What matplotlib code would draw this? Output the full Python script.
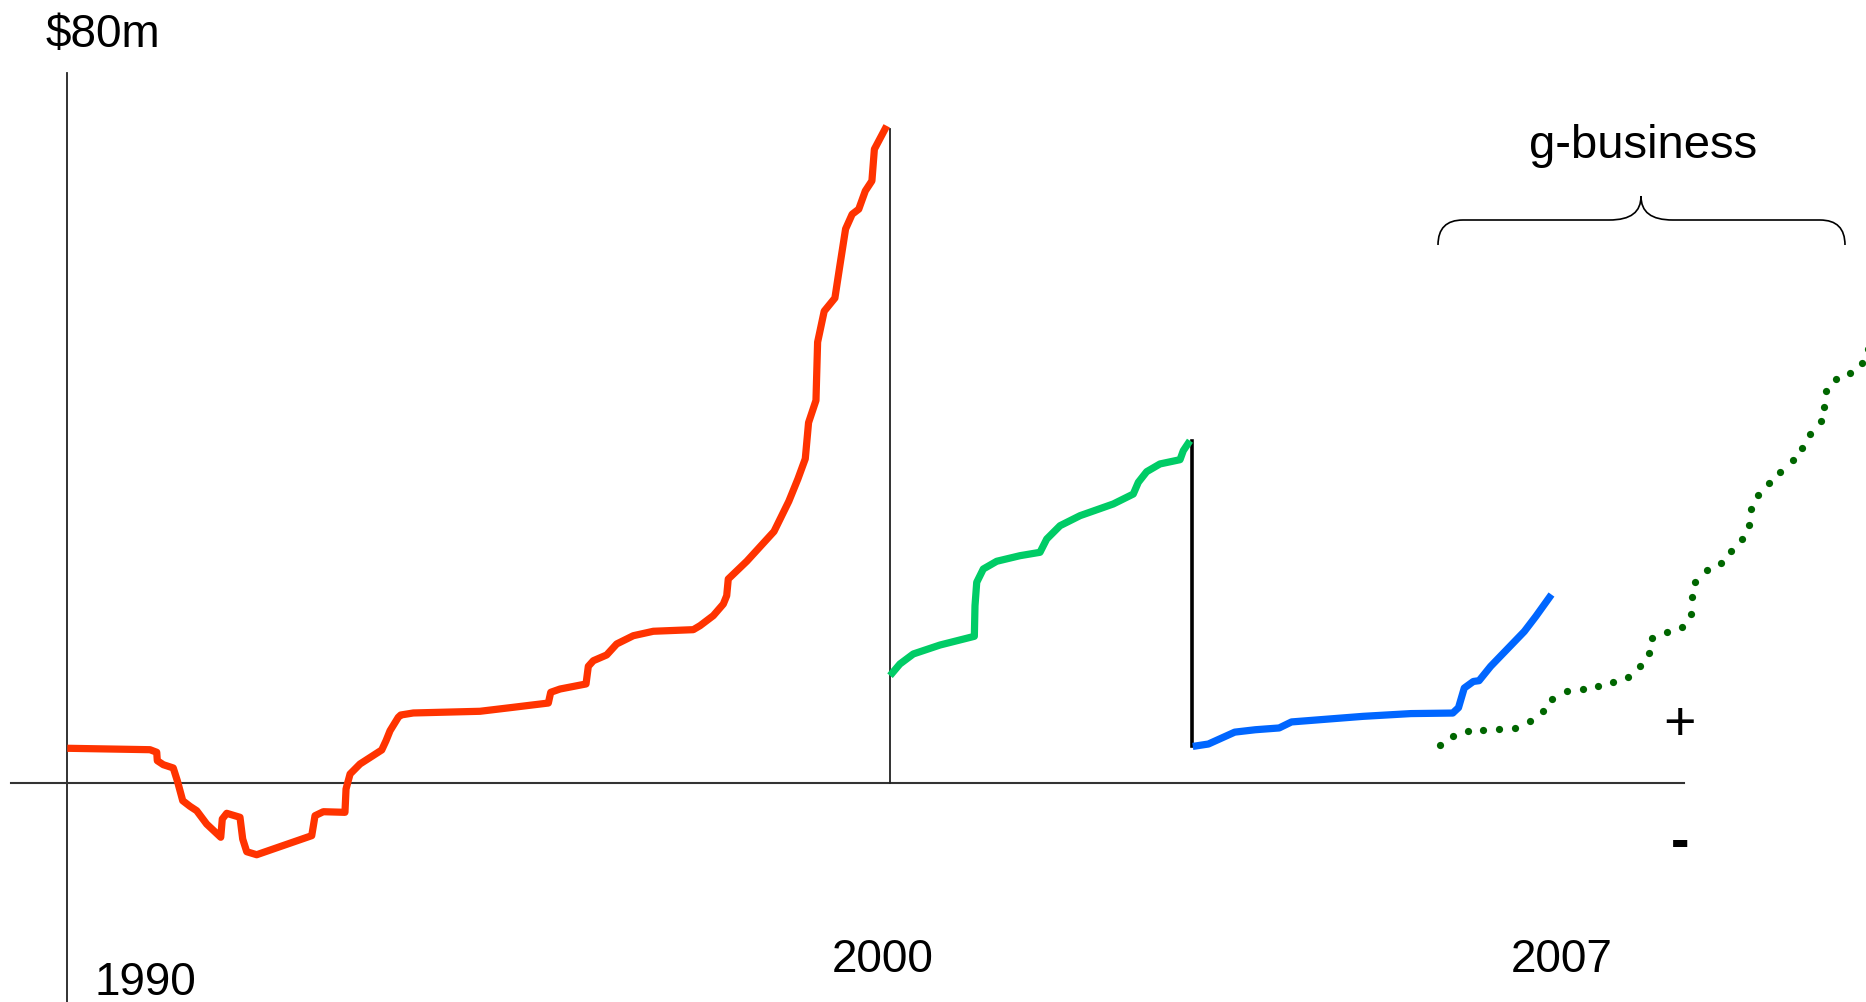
import matplotlib
matplotlib.use("Agg")
import matplotlib.pyplot as plt
from matplotlib.path import Path
from matplotlib.patches import PathPatch

plt.rcParams['font.family'] = ['Liberation Sans', 'DejaVu Sans']

# ---- data (year, $m) ----
red_years = [1990.00, 1991.005, 1991.087, 1991.094, 1991.167, 1991.288, 1991.337, 1991.403,
             1991.491, 1991.573, 1991.694, 1991.865, 1991.884, 1991.938, 1992.099, 1992.132,
             1992.181, 1992.302, 1992.504, 1992.971, 1992.990, 1993.011, 1993.112, 1993.375,
             1993.388, 1993.437, 1993.558, 1993.822, 1993.874, 1993.923, 1994.023, 1994.053,
             1994.206, 1995.016, 1995.421, 1995.847, 1995.876, 1995.989, 1996.305, 1996.333,
             1996.394, 1996.556, 1996.678, 1996.880, 1997.123, 1997.609, 1997.691, 1997.852,
             1997.974, 1998.015, 1998.034, 1998.26, 1998.59, 1998.77, 1998.88, 1998.97,
             1999.01, 1999.10, 1999.12, 1999.20, 1999.33, 1999.39, 1999.46, 1999.54,
             1999.62, 1999.70, 1999.78, 1999.81, 1999.96]
red_vals = [3.88, 3.72, 3.43, 2.48, 2.03, 1.66, 0.23, -2.03,
            -2.66, -3.16, -4.66, -6.15, -4.09, -3.45, -3.90, -6.35,
            -7.78, -8.12, -7.47, -5.97, -4.91, -3.72, -3.27, -3.34,
            -0.71, 0.98, 2.11, 3.69, 4.73, 5.86, 7.37, 7.63,
            7.86, 8.05, 8.50, 8.98, 10.19, 10.56, 11.13, 13.12,
            13.75, 14.40, 15.64, 16.57, 17.07, 17.25, 17.70, 18.83,
            20.14, 21.08, 22.96, 24.97, 28.32, 31.72, 34.23, 36.51,
            40.59, 43.09, 49.66, 53.15, 54.63, 58.26, 62.42, 64.08,
            64.65, 66.71, 67.84, 71.41, 74.04]

green_years = [2000.00, 2000.12, 2000.283, 2000.608, 2001.025, 2001.033, 2001.054, 2001.134,
               2001.297, 2001.580, 2001.823, 2001.905, 2002.067, 2002.310, 2002.714, 2002.957,
               2003.018, 2003.120, 2003.281, 2003.525, 2003.565, 2003.646]
green_vals = [12.06, 13.38, 14.51, 15.52, 16.50, 19.95, 22.59, 24.09,
              24.96, 25.59, 25.97, 27.47, 28.97, 30.10, 31.42, 32.54,
              33.86, 35.06, 35.93, 36.41, 37.43, 38.55]

blue_years = [2003.68, 2003.87, 2004.19, 2004.44, 2004.73, 2004.88, 2005.75, 2006.33, 2006.84,
              2006.91, 2006.98, 2007.09, 2007.16, 2007.30, 2007.71, 2007.85, 2008.04]
blue_vals = [4.09, 4.36, 5.70, 5.97, 6.17, 6.85, 7.48, 7.79, 7.85,
             8.46, 10.67, 11.41, 11.50, 13.11, 17.05, 18.75, 21.21]

gbiz_years = [2006.68, 2006.84, 2007.02, 2007.21, 2007.40, 2007.60, 2007.78, 2007.94, 2008.05,
              2008.23, 2008.42, 2008.61, 2008.79, 2008.97, 2009.12, 2009.23, 2009.26, 2009.45,
              2009.63, 2009.74, 2009.75, 2009.79, 2009.93, 2010.10, 2010.22, 2010.36, 2010.44,
              2010.47, 2010.55, 2010.69, 2010.82, 2010.97, 2011.08, 2011.18, 2011.31, 2011.35,
              2011.38, 2011.50, 2011.67, 2011.82, 2011.89]
gbiz_vals = [4.20, 5.22, 5.79, 5.93, 6.01, 6.16, 6.91, 8.04, 9.44,
             10.30, 10.59, 10.93, 11.32, 11.91, 13.11, 14.62, 16.31, 16.95,
             17.54, 19.05, 20.90, 22.59, 23.93, 24.77, 26.08, 27.48, 29.09,
             30.89, 32.43, 33.74, 35.03, 36.35, 37.77, 39.28, 40.78, 42.39,
             44.16, 45.48, 46.23, 47.36, 48.86]

year_labels = ["1990", "2000", "2007"]
top_label = "$80m"
brace_label = "g-business"

W, H = 1866, 1003
fig = plt.figure(figsize=(W / 100, H / 100), dpi=100)
ax = fig.add_axes([0, 0, 1, 1])
ax.set_xlim(1989.182, 2011.863)
ax.set_ylim(-24.72, 88.34)
ax.axis('off')

# axes
ax.plot([1990, 1990], [-24.72, 80], color='#222222', lw=1.3)
ax.plot([1989.31, 2009.65], [0, 0], color='#333333', lw=1.5)
ax.plot([2000, 2000], [0, 73.7], color='#222222', lw=1.3)
ax.plot([2003.666, 2003.666], [blue_vals[0], green_vals[-1]], color='black', lw=2.6)

style = dict(lw=5.2, solid_capstyle='butt', solid_joinstyle='round')
ax.plot(red_years, red_vals, color='#FF3300', **style)
ax.plot(green_years, green_vals, color='#00CC66', **style)
ax.plot(blue_years, blue_vals, color='#0066FF', **style)
ax.plot(gbiz_years, gbiz_vals, linestyle='none', marker='o', markersize=5.2,
        color='#006600', markeredgewidth=0)

def fx(px):
    return px / W

def fy(py):
    return 1 - py / H

fs = 33
fig.text(fx(46), fy(47), top_label, fontsize=fs, ha='left', va='baseline')
fig.text(fx(95), fy(995), year_labels[0], fontsize=fs, ha='left', va='baseline')
fig.text(fx(883), fy(972), year_labels[1], fontsize=fs, ha='center', va='baseline')
fig.text(fx(1562), fy(972), year_labels[2], fontsize=fs, ha='center', va='baseline')
fig.text(fx(1679), fy(740), "+", fontsize=40, ha='center', va='baseline')
fig.text(fx(1680), fy(858), "-", fontsize=40, fontweight='bold', ha='center', va='baseline')
fig.text(fx(1643), fy(158), brace_label, fontsize=34, ha='center', va='baseline')

# curly brace
L, R, tipx = 1438, 1845, 1641
ybar, ytip, yend = 221, 197, 246
verts = [
    (L, yend), (L, ybar), (L + 25, ybar),
    (tipx - 32, ybar),
    (tipx - 10, ybar), (tipx, ybar - 8), (tipx, ytip),
    (tipx, ybar - 8), (tipx + 10, ybar), (tipx + 32, ybar),
    (R - 25, ybar),
    (R, ybar), (R, yend),
]
codes = [Path.MOVETO, Path.CURVE3, Path.CURVE3,
         Path.LINETO,
         Path.CURVE4, Path.CURVE4, Path.CURVE4,
         Path.CURVE4, Path.CURVE4, Path.CURVE4,
         Path.LINETO,
         Path.CURVE3, Path.CURVE3]
verts_f = [(fx(x), fy(y)) for x, y in verts]
fig.patches.append(PathPatch(Path(verts_f, codes), facecolor='none', edgecolor='black',
                             lw=1.2, transform=fig.transFigure))

fig.savefig('out.png', dpi=100, facecolor='white')
